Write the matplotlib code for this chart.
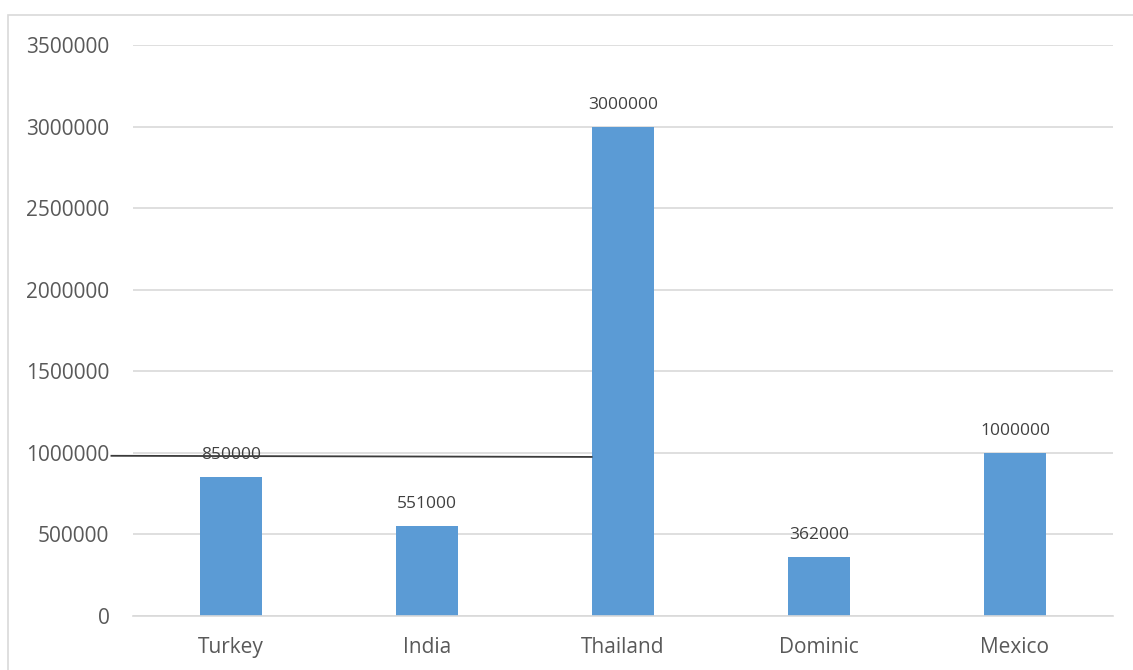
import matplotlib.pyplot as plt
from matplotlib.patches import Rectangle

countries = ['Turkey', 'India', 'Thailand', 'Dominic', 'Mexico']
values = [850000, 551000, 3000000, 362000, 1000000]
yticks = [0, 500000, 1000000, 1500000, 2000000, 2500000, 3000000, 3500000]
# stray dark line drawn over the chart (x in category units, y in data units)
stray_x = [-0.61, 1.84]
stray_y = [982000, 975000]

plt.rcParams['font.family'] = ['Open Sans', 'DejaVu Sans']
txt = '#595959'
bar_color = '#5b9bd5'
grid = '#d9d9d9'

fig = plt.figure(figsize=(11.33, 6.70), dpi=100)
fig.patches.append(Rectangle((8 / 1133, -0.1), 1.2, 1 - 15 / 670 + 0.1,
                             transform=fig.transFigure, fill=False,
                             edgecolor=grid, linewidth=1.2))
ax = fig.add_axes([133 / 1133, 1 - 616 / 670, 980 / 1133, 571 / 670])

x = range(len(countries))
ax.bar(x, values, width=0.315, color=bar_color, zorder=2)
for i, v in zip(x, values):
    ax.annotate(str(v), (i, v), xytext=(0, 10), textcoords='offset points',
                ha='center', va='bottom', fontsize=12.5, color='#404040', zorder=4)

ax.plot(stray_x, stray_y, color='#3a3a3a', linewidth=1.3, clip_on=False, zorder=3)

ax.set_xlim(-0.5, 4.5)
ax.set_ylim(0, 3500000)
ax.set_yticks(yticks)
ax.set_yticklabels([str(t) for t in yticks])
ax.set_xticks(list(x))
ax.set_xticklabels(countries)
ax.tick_params(axis='y', length=0, pad=17, labelsize=15, labelcolor=txt)
ax.tick_params(axis='x', length=0, pad=15, labelsize=15, labelcolor=txt)
ax.yaxis.grid(True, color=grid, linewidth=1.2, zorder=0)
ax.set_axisbelow(True)
for s in ['top', 'right', 'left']:
    ax.spines[s].set_visible(False)
ax.spines['bottom'].set_color(grid)
ax.spines['bottom'].set_linewidth(1.2)

fig.savefig('out.png', dpi=100)
